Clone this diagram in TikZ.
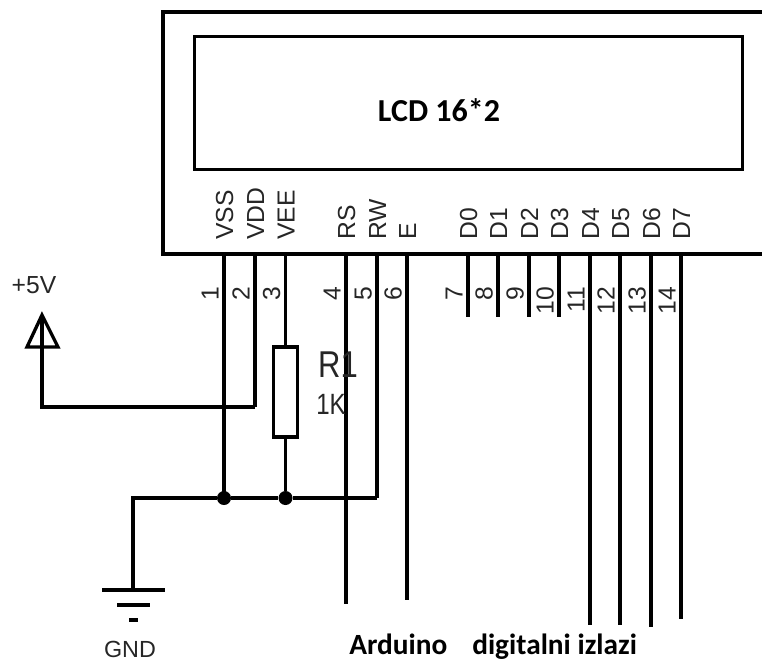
\documentclass[tikz,border=0pt]{standalone}
\usepackage{fontspec}
\setmainfont{Liberation Sans}
\newfontfamily\boldfont[Scale=1.0]{Carlito}
\tikzset{
  wire/.style={line width=2.5pt, line cap=butt, line join=miter},
  pinlabel/.style={rotate=90, anchor=base west, inner sep=0pt, font=\fontsize{18.5}{18.5}\selectfont, text=black!85},
  pinnum/.style={rotate=90, anchor=base east, inner sep=0pt, font=\fontsize{18.5}{18.5}\selectfont, text=black!85},
  dot/.style={circle, fill=black, inner sep=0pt, minimum size=10.5pt},
  sidetext/.style={inner sep=0pt, text=black!85},
  title/.style={inner sep=0pt, font=\boldfont\bfseries\fontsize{22}{22}\selectfont}
}
\begin{document}
\begin{tikzpicture}[x=0.75pt, y=-0.75pt]
\useasboundingbox (0,0) rectangle (762,661);

% lcd body
\draw[line width=3pt] (762,12) -- (163,12) -- (163,254) -- (762,254);
\node[draw, line width=2pt, minimum width=411pt, minimum height=100pt, inner sep=0pt] (screen) at (468.5,103) {};
\node[title, font=\boldfont\bfseries\fontsize{24}{24}\selectfont] (lcdname) at (439,110) {LCD 16*2};

% pins along the lower edge
\foreach \n/\x/\lab/\yend in {1/224/VSS/498, 2/255/VDD/407, 3/285.5/VEE/346, 4/346/RS/604, 5/377/RW/498, 6/407/E/600,
  7/468/D0/317, 8/498/D1/317, 9/529/D2/317, 10/559/D3/317, 11/590/D4/625, 12/620/D5/625, 13/651/D6/627, 14/681/D7/619}
{
  \coordinate (pin\n) at (\x,254);
  \coordinate (end\n) at (\x,\yend);
  \draw[wire] (pin\n) -- (end\n);
  \node[pinlabel] (lab\n) at (\x+9,240) {\lab};
  \node[pinnum] (num\n) at (\x-5.5,287) {\n};
}

% +5V arrow
\coordinate (tip) at (42,315);
\coordinate (corner) at (42,407);
\draw[wire] (end2) -- (corner) -- (tip);
\draw[wire, miter limit=20] (tip) -- (58,347) -- (27,347) -- cycle;
\node[sidetext, font=\fontsize{18.5}{18.5}\selectfont] (vcc) at (34,285) {+5V};

% resistor
\node[draw, fill=white, line width=2.3pt, minimum width=17.5pt, minimum height=67.5pt, inner sep=0pt] (r1) at (285.5,392) {};
\draw[wire] (end3) -- (r1.north);
\node[sidetext, xscale=0.83, font=\fontsize{28}{28}\selectfont] (r1name) at (338,365) {R1};
\node[sidetext, xscale=0.82, font=\fontsize{22}{22}\selectfont] (r1val) at (331,404) {1K};

% ground rail
\node[dot] (j1) at (224,498) {};
\node[dot] (j2) at (285.5,498) {};
\coordinate (gndtop) at (133,498);
\coordinate (gndbar) at (133,590);
\draw[wire] (end5) -- (j2) -- (j1) -- (gndtop) -- (gndbar);
\draw[wire] (r1.south) -- (j2);
\draw[wire] (102,590) -- (165,590);
\draw[wire] (117,605) -- (150,605);
\draw[wire] (129,620) -- (138,620);
\node[sidetext, font=\fontsize{17.5}{17.5}\selectfont] (gnd) at (130,649) {GND};

\node[title, anchor=base west] (arduino) at (349,654) {Arduino};
\node[title, anchor=base west] (izlazi) at (472,654) {digitalni izlazi};
\end{tikzpicture}
\end{document}
